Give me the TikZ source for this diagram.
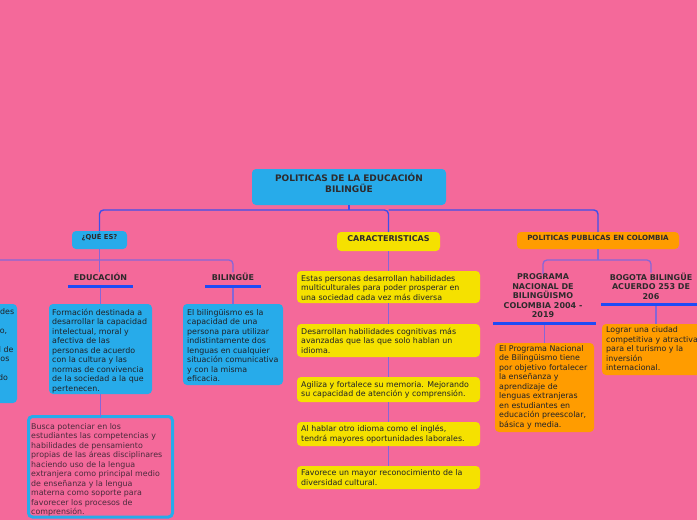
\documentclass[tikz,border=0pt]{standalone}
\usepackage{fontspec}
\setmainfont{DejaVu Sans}
\usetikzlibrary{fit}
\definecolor{bgpink}{HTML}{F4699A}
\definecolor{cyanb}{HTML}{27ABEA}
\definecolor{yelb}{HTML}{F5E100}
\definecolor{orab}{HTML}{FF9C00}
\definecolor{topc}{HTML}{3D4FEA}
\definecolor{subc}{HTML}{8566D8}
\definecolor{ulc}{HTML}{1D4BF5}
\definecolor{dtxt}{HTML}{1F2228}
\definecolor{htxt}{HTML}{2E2A2C}
\definecolor{ptxt}{HTML}{4A2A3C}
\begin{document}
\begin{tikzpicture}[x=1pt,y=-1pt,
 box/.style={rounded corners=4pt,inner sep=0pt,outer sep=0pt},
 cbox/.style={box,fill=cyanb},
 ybox/.style={box,fill=yelb},
 obox/.style={box,fill=orab},
 body/.style={inner sep=0pt,anchor=north west,align=left,text=dtxt,font=\fontsize{7.9}{9.5}\selectfont},
 head/.style={inner sep=0pt,align=center,text=htxt,font=\bfseries\fontsize{8}{9.4}\selectfont},
 uline/.style={fill=ulc,inner sep=0pt,outer sep=0pt,minimum height=3pt},
 topline/.style={draw=topc,line width=1.4pt,rounded corners=4pt},
 subline/.style={draw=subc,line width=1.3pt,rounded corners=4pt},
]
\useasboundingbox (0,0) rectangle (697,520);
\clip (0,0) rectangle (697,520);
\fill[bgpink] (0,0) rectangle (697,520);

% level 0 and 1
\node[cbox,fit={(252,169)(446,205)},align=center,text=htxt,font=\bfseries\fontsize{9}{10.5}\selectfont] (root) {POLITICAS DE LA EDUCACIÓN\\BILINGÜE};
\node[cbox,fit={(72,231)(127,249)},text=htxt,font=\bfseries\fontsize{6.8}{8}\selectfont] (que) {¿QUÉ ES?};
\node[ybox,fit={(337,232)(440,251)},text=htxt,font=\bfseries\fontsize{8}{9}\selectfont] (car) {CARACTERISTICAS};
\node[obox,fit={(517,232)(679,249)},text=htxt,font=\bfseries\fontsize{7.1}{8}\selectfont] (pol) {POLITICAS PUBLICAS EN COLOMBIA};

% ¿QUE ES? branch
\node[head,anchor=base] (educ) at (100.5,280) {EDUCACIÓN};
\node[uline,minimum width=65pt] (educul) at (100.5,286) {};
\node[head,anchor=base] (bil) at (233,280) {BILINGÜE};
\node[uline,minimum width=56pt] (bilul) at (233,286) {};

\node[cbox,fit={(-40,304)(17,403)}] (leftbox) {};
\node[body] (lefttxt) at (-5,308) {\hspace*{5pt}des\\ \mbox{}\\ \hspace*{0.5pt}so,\\ \mbox{}\\ \hspace*{3.7pt}l de\\ \hspace*{5.3pt}os\\ \mbox{}\\ \hspace*{2.8pt}do};

\node[cbox,fit={(49,304)(152,394)}] (formbox) {};
\node[body] (formtxt) at (52,308.7) {Formación destinada a\\desarrollar la capacidad\\intelectual, moral y\\afectiva de las\\personas de acuerdo\\con la cultura y las\\normas de convivencia\\de la sociedad a la que\\pertenecen.};

\node[cbox,fit={(183,304)(283,385)}] (bilbox) {};
\node[body] (biltxt) at (187,309) {El bilingüismo es la\\capacidad de una\\persona para utilizar\\indistintamente dos\\lenguas en cualquier\\situación comunicativa\\y con la misma\\eficacia.};

\node[box,draw=cyanb,line width=3pt,fit={(28.5,416.5)(172.5,517)}] (buscabox) {};
\node[body,text=ptxt] (buscatxt) at (31,423) {Busca potenciar en los\\estudiantes las competencias y\\habilidades de pensamiento\\propias de las áreas disciplinares\\haciendo uso de la lengua\\extranjera como principal medio\\de enseñanza y la lengua\\materna como soporte para\\favorecer los procesos de\\comprensión.};

% CARACTERISTICAS branch
\node[ybox,fit={(297,271)(480,303)}] (c1) {};
\node[body] (c1t) at (301,275) {Estas personas desarrollan habilidades\\multiculturales para poder prosperar en\\una sociedad cada vez más diversa};
\node[ybox,fit={(297,324)(480,357)}] (c2) {};
\node[body] (c2t) at (301,327.8) {Desarrollan habilidades cognitivas más\\avanzadas que las que solo hablan un\\idioma.};
\node[ybox,fit={(297,377)(480,402)}] (c3) {};
\node[body] (c3t) at (301,381) {Agiliza y fortalece su memoria. Mejorando\\su capacidad de atención y comprensión.};
\node[ybox,fit={(297,422)(480,446)}] (c4) {};
\node[body] (c4t) at (301,425.4) {Al hablar otro idioma como el inglés,\\tendrá mayores oportunidades laborales.};
\node[ybox,fit={(297,466)(480,489)}] (c5) {};
\node[body] (c5t) at (301,469.7) {Favorece un mayor reconocimiento de la\\diversidad cultural.};

% POLITICAS branch
\node[head,anchor=north] (prog) at (543,273.8) {PROGRAMA\\NACIONAL DE\\BILINGÜISMO\\COLOMBIA 2004 -\\2019};
\node[uline,minimum width=103pt] (progul) at (544.5,323.5) {};
\node[head,anchor=north] (bog) at (651,272.6) {BOGOTA BILINGÜE\\ACUERDO 253 DE\\206};
\node[uline,minimum width=110pt] (bogul) at (656,304.5) {};

\node[obox,fit={(495,343)(594,432)}] (progbox) {};
\node[body] (progtxt) at (499,345) {El Programa Nacional\\de Bilingüismo tiene\\por objetivo fortalecer\\la enseñanza y\\aprendizaje de\\lenguas extranjeras\\en estudiantes en\\educación preescolar,\\básica y media.};
\node[obox,fit={(602,324)(720,375)}] (bogbox) {};
\node[body] (bogtxt) at (606,326.7) {Lograr una ciudad\\competitiva y atractiva\\para el turismo y la\\inversión\\internacional.};

% connectors
\coordinate (j0) at (349,210);
\draw[topline] (root.south) -- (j0);
\draw[topline] (que.north) |- (j0) -| (car.north);
\draw[topline] (car.north |- j0) -| (pol.north);

\coordinate (q0) at (-30,260);
\draw[subline] (que.south) -- (que.south |- educ.north);
\draw[subline] (q0) -| (bil.north);
\draw[subline] (educul.south) -- (educul.south |- formbox.north);
\draw[subline] (formbox.south) -- (formbox.south |- buscabox.north);
\draw[subline] (bilul.south) -- (bilul.south |- bilbox.north);

\draw[subline] (car.south) -- (car.south |- c1.north);
\draw[subline] (c1.south) -- (c1.south |- c2.north);
\draw[subline] (c2.south) -- (c2.south |- c3.north);
\draw[subline] (c3.south) -- (c3.south |- c4.north);
\draw[subline] (c4.south) -- (c4.south |- c5.north);

\coordinate (p0) at (598,260);
\draw[subline] (pol.south) -- (p0);
\draw[subline] (prog.north) |- (p0) -| (bog.north);
\draw[subline] (progul.south) -- (progul.south |- progbox.north);
\draw[subline] (bogul.south) -- (bogul.south |- bogbox.north);
\end{tikzpicture}
\end{document}
